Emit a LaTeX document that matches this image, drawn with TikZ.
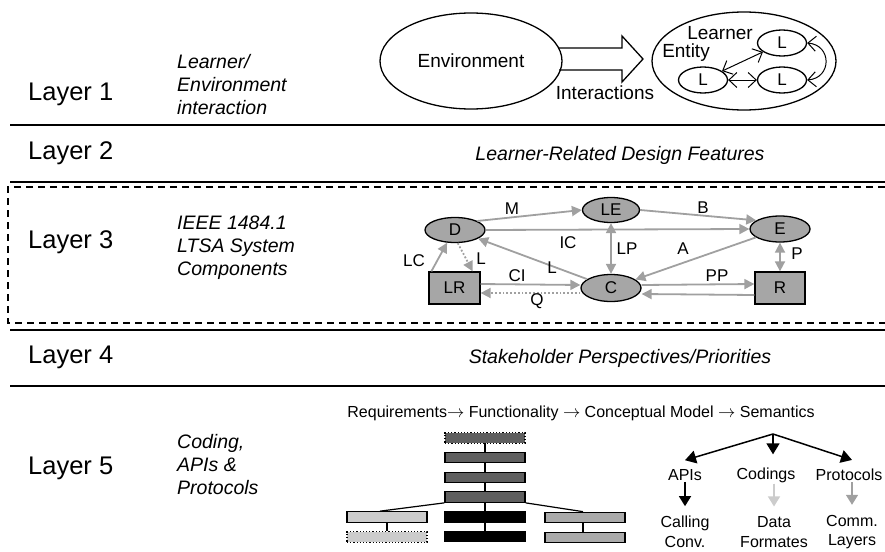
\documentclass[tikz,border=0pt]{standalone}
\usepackage{fontspec}
\setmainfont{Liberation Sans}
\usetikzlibrary{arrows.meta,shapes.geometric,calc}

\definecolor{nodegray}{HTML}{A6A6A6}
\definecolor{edgegray}{HTML}{A0A0A0}
\definecolor{darkbar}{HTML}{5F5F5F}
\definecolor{lightbar}{HTML}{CCCCCC}
\definecolor{midbar}{HTML}{AAAAAA}

\tikzset{
  layerlbl/.style={font=\fontsize{25.5}{30}\selectfont, anchor=west, inner sep=0pt},
  desc/.style={font=\fontsize{19.5}{23}\selectfont\itshape, align=left, anchor=west, inner sep=0pt},
  desccenter/.style={font=\fontsize{19.5}{23}\selectfont\itshape, inner sep=0pt},
  layerrule/.style={line width=2pt},
  plain/.style={font=\fontsize{19}{22}\selectfont, inner sep=0pt},
  small/.style={font=\fontsize{16}{19}\selectfont, inner sep=0pt, align=center},
  edgelbl/.style={font=\fontsize{17}{20}\selectfont, inner sep=0pt},
  outline/.style={draw, line width=1.3pt},
  learner/.style={outline, ellipse, minimum width=49pt, minimum height=26pt, inner sep=0pt, font=\fontsize{17}{20}\selectfont},
  lnk/.style={line width=1pt, {Straight Barb[length=8pt,width=15pt]}-{Straight Barb[length=8pt,width=15pt]}},
  comp/.style={draw, line width=1.3pt, fill=nodegray, inner sep=0pt, font=\fontsize{17}{20}\selectfont},
  compell/.style={comp, ellipse},
  flow/.style={draw=edgegray, line width=1.8pt, -{Triangle[length=10pt,width=10pt]}},
  flow2/.style={draw=edgegray, line width=1.8pt, {Triangle[length=10pt,width=10pt]}-{Triangle[length=10pt,width=10pt]}},
  dotflow/.style={flow, dotted},
  bar/.style={draw, line width=1.2pt, minimum width=80pt, minimum height=10.5pt, inner sep=0pt},
  treearrow/.style={line width=1.5pt, -{Triangle[length=11pt,width=13pt]}},
  downarrow/.style={line width=1.5pt, -{Triangle[length=10pt,width=12pt]}},
}

\begin{document}
\begin{tikzpicture}[x=1pt,y=-1pt]
\useasboundingbox (0,0) rectangle (885,551);

% ---------- layer labels and descriptions ----------
\node[layerlbl] (l1lbl) at (28,94) {Layer 1};
\node[layerlbl] (l2lbl) at (28,153) {Layer 2};
\node[layerlbl] (l3lbl) at (28,242) {Layer 3};
\node[layerlbl] (l4lbl) at (28,357) {Layer 4};
\node[layerlbl] (l5lbl) at (28,468) {Layer 5};

\node[desc] (d1) at (177,85) {Learner/\\Environment\\interaction};
\node[desccenter] (d2) at (620,155) {Learner-Related Design Features};
\node[desc] (d3) at (177,248) {IEEE 1484.1\\LTSA System\\Components};
\node[desccenter] (d4) at (620,358) {Stakeholder Perspectives/Priorities};
\node[desc] (d5) at (177,465) {Coding,\\APIs \&\\Protocols};

% ---------- separators ----------
\draw[layerrule] (10,125) -- (885,125);
\draw[layerrule] (10,182) -- (885,182);
\draw[layerrule] (10,330) -- (885,330);
\draw[layerrule] (10,386) -- (885,386);
\draw[line width=1.4pt, dash pattern=on 7pt off 5pt] (885,187) -- (8,187) -- (8,323) -- (885,323);

% ---------- layer 1: learner / environment ----------
\node[outline, ellipse, minimum width=182pt, minimum height=96pt, plain] (env) at (471,61) {Environment};
\draw[line width=1.3pt] (559,48) -- (622,48) -- (622,36) -- (643,59) -- (622,82) -- (622,70) -- (559,70);
\node[plain] (inter) at (605,93) {Interactions};

\node[outline, ellipse, minimum width=184pt, minimum height=98pt] (entity) at (744,61) {};
\node[plain] (lrn) at (720,33) {Learner};
\node[plain] (ent) at (686,53) {Entity};
\node[learner] (la) at (782,43) {L};
\node[learner] (lb) at (703,80) {L};
\node[learner] (lc) at (782,80) {L};
\draw[lnk] (la) -- (lb);
\draw[lnk] (lb) -- (lc);
\draw[lnk] (la.east) .. controls (832,45) and (832,78) .. (lc.east);

% ---------- layer 3: LTSA components ----------
\node[compell, minimum width=60pt, minimum height=25pt] (D) at (455,230) {D};
\node[compell, minimum width=57pt, minimum height=25pt] (LE) at (611,210) {LE};
\node[compell, minimum width=60pt, minimum height=26pt] (E) at (780,229) {E};
\node[compell, minimum width=60pt, minimum height=27pt] (C) at (611,288) {C};
\node[comp, minimum width=51pt, minimum height=32pt] (LR) at (454.5,288) {LR};
\node[comp, minimum width=50pt, minimum height=32pt] (R) at (780,288) {R};

\draw[flow] (D.22) -- (LE.west);
\draw[flow] (LE.east) -- (E.160);
\draw[flow] (D.east) -- (E.west);
\draw[flow2] (LE.south) -- (C.north);
\draw[flow] (E) -- (C);
\draw[flow] (C) -- (D);
\draw[flow] ([xshift=3pt]LR.north west) -- (D.238);
\draw[dotflow] (D.282) -- ([xshift=-8pt]LR.north east);
\draw[flow] ([yshift=4pt]LR.east) -- ([yshift=3pt]C.west);
\draw[dotflow] ([yshift=-5pt]C.west) -- ([yshift=-5pt]LR.east);
\draw[flow] ([yshift=3pt]C.east) -- ([yshift=4pt]R.west);
\draw[flow] ([yshift=-7pt]R.west) -- ([yshift=-6pt]C.east);
\draw[flow2] (E.south) -- (R.north);

\node[edgelbl] (tM) at (512,209) {M};
\node[edgelbl] (tB) at (703,208) {B};
\node[edgelbl] (tLP) at (627,249) {LP};
\node[edgelbl] (tA) at (683,249) {A};
\node[edgelbl] (tP) at (797,254) {P};
\node[edgelbl] (tPP) at (717,276) {PP};
\node[edgelbl] (tLC) at (414,261) {LC};
\node[edgelbl] (tL1) at (481,259) {L};
\node[edgelbl] (tCI) at (517,276) {CI};
\node[edgelbl] (tQ) at (537,301) {Q};
\node[edgelbl] (tL2) at (552,268) {L};
\node[edgelbl] (tIC) at (568,243) {IC};

% ---------- layer 5: coding, APIs and protocols ----------
\node[small] (req) at (581,413) {Requirements$\rightarrow$ Functionality $\rightarrow$ Conceptual Model $\rightarrow$ Semantics};

\draw[line width=1.2pt] (485,438) -- (485,537);
\node[bar, fill=darkbar, dotted] (b1) at (485,438) {};
\node[bar, fill=darkbar] (b2) at (485,457.5) {};
\node[bar, fill=darkbar] (b3) at (485,477.5) {};
\node[bar, fill=darkbar] (b4) at (485,497) {};
\node[bar, fill=black] (b5) at (485,517) {};
\node[bar, fill=black] (b6) at (485,536.5) {};
\node[bar, fill=lightbar] (lb1) at (387,517) {};
\node[bar, fill=lightbar, dotted] (lb2) at (387,537) {};
\node[bar, fill=midbar] (rb1) at (585,517.5) {};
\node[bar, fill=midbar] (rb2) at (585,537.5) {};
\draw[line width=1.2pt] (b4.south west) -- ([xshift=-7pt]lb1.north);
\draw[line width=1.2pt] (b4.south east) -- ([xshift=-2pt]rb1.north);
\draw[line width=1.2pt] (lb1.south) -- (lb2.north);
\draw[line width=1.2pt] ([xshift=-2pt]rb1.south) -- ([xshift=-2pt]rb2.north);

\coordinate (root) at (773,434);
\node[small] (apis) at (685,475) {APIs};
\node[small] (codings) at (766,475) {Codings};
\node[small] (protocols) at (849,475) {Protocols};
\node[small, font=\fontsize{16}{19.5}\selectfont] (calling) at (685,532) {Calling\\Conv.};
\node[small, font=\fontsize{16}{19.5}\selectfont] (data) at (774,532) {Data\\Formates};
\node[small, font=\fontsize{16}{19.5}\selectfont] (comm) at (852,532) {Comm.\\Layers};

\draw[treearrow] (root) -- ([yshift=9pt]apis.north);
\draw[treearrow] (root) -- ([xshift=7pt,yshift=13pt]codings.north);
\draw[treearrow] (root) -- ([xshift=3pt,yshift=9pt]protocols.north);
\draw[downarrow] ([yshift=-1pt]apis.south) -- ([yshift=10pt]calling.north);
\draw[downarrow, draw=lightbar, fill=lightbar] ([yshift=-1pt]data.north |- codings.south) -- ([yshift=10pt]data.north);
\draw[downarrow, draw=edgegray, fill=edgegray] ([yshift=-1pt]comm.north |- protocols.south) -- ([yshift=10pt]comm.north);
\end{tikzpicture}
\end{document}
